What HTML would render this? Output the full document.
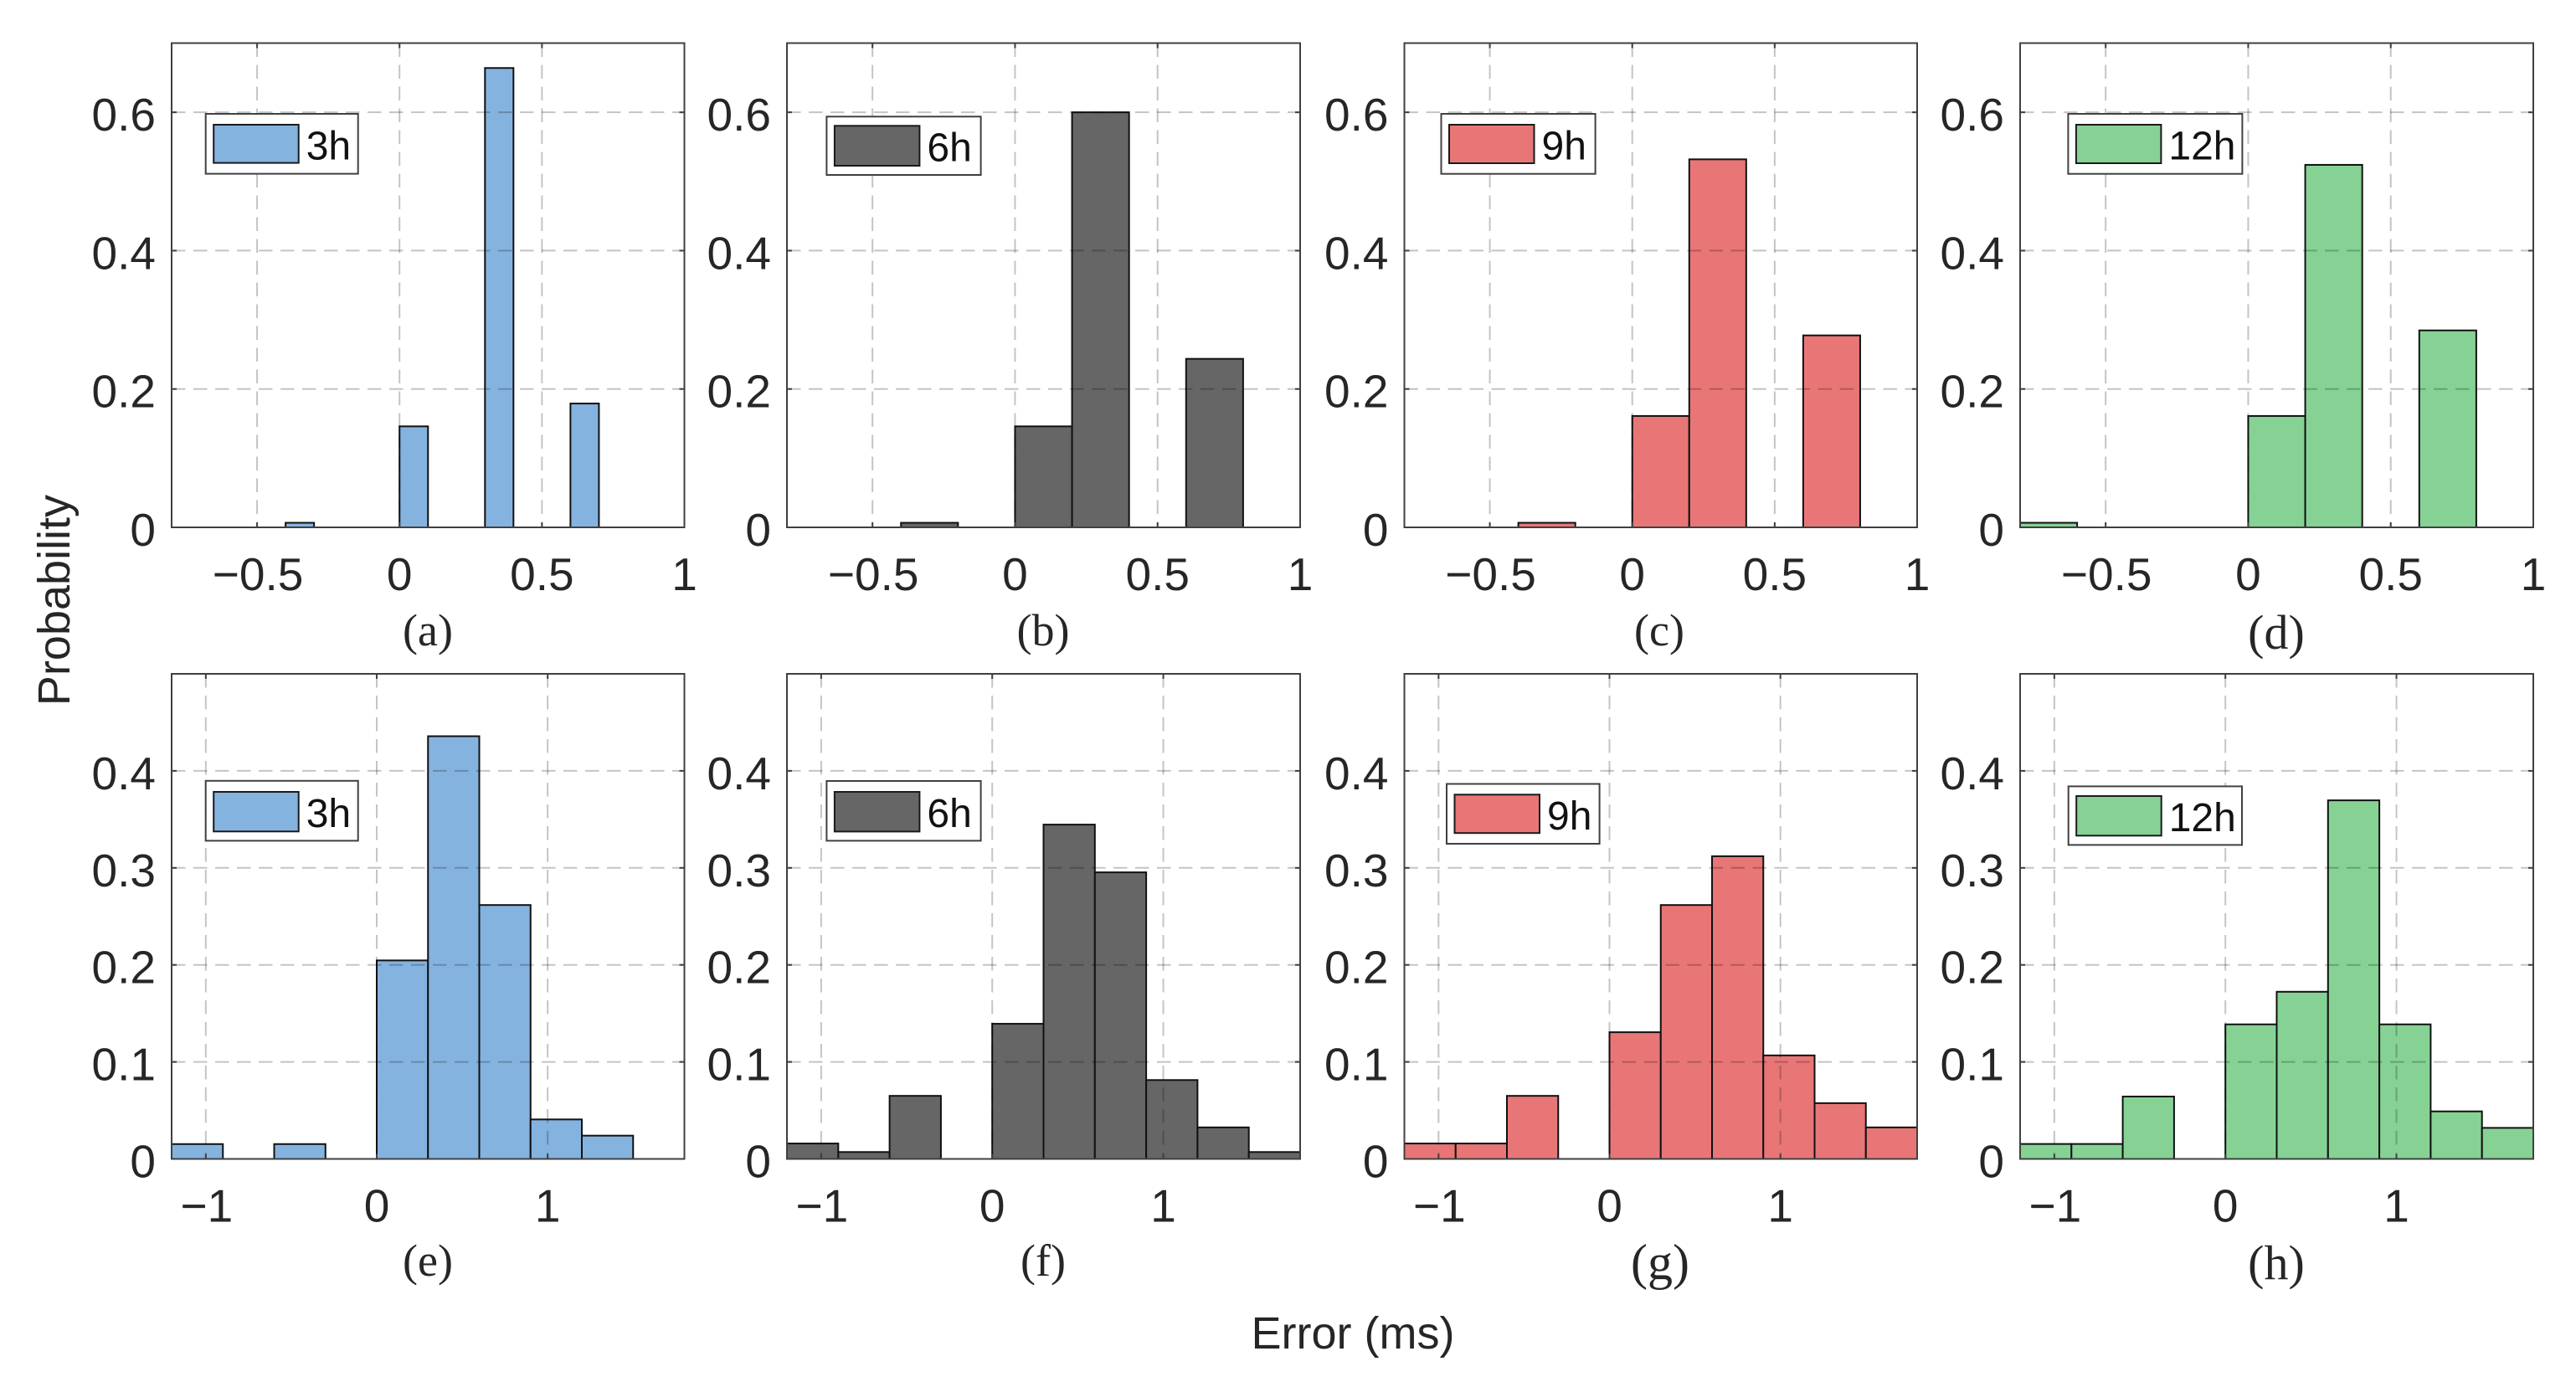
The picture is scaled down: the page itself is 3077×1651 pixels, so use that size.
<!DOCTYPE html>
<html lang="en">
<head>
<meta charset="utf-8">
<title>Error probability histograms</title>
<style>
html,body{margin:0;padding:0;background:#fff;}
svg{display:block;}
text{font-family:"Liberation Sans",Arial,sans-serif;}
.cap{font-family:"Liberation Serif","Times New Roman",serif;fill:#262626;}
</style>
</head>
<body>
<svg id="chart" xmlns="http://www.w3.org/2000/svg" width="3077" height="1651" viewBox="0 0 3077 1651">
<rect x="0" y="0" width="3077" height="1651" fill="#ffffff"/>
<text transform="translate(83,717) rotate(-90)" text-anchor="middle" font-size="54" fill="#262626">Probability</text>
<text x="1616" y="1611" text-anchor="middle" font-size="54" fill="#262626">Error (ms)</text>
</svg>
<script>
// ---- data ----
const topBinWidths = [0.1, 0.2, 0.2, 0.2];
const topBinStart = -0.8;
const valuesA = [0,0,0,0,0.0066,0,0,0,0.146,0,0,0.664,0,0,0.179,0,0,0];
const valuesB = [0,0,0.0066,0,0.146,0.6,0,0.2436,0];
const valuesC = [0,0,0.0066,0,0.161,0.532,0,0.2775,0];
const valuesD = [0.0066,0,0,0,0.161,0.524,0,0.2847,0];
const bottomBinWidth = 0.3;
const bottomBinStart = -1.2;
const valuesE = [0.0153,0,0.0153,0,0.2046,0.4357,0.2617,0.0407,0.024,0];
const valuesF = [0.0159,0.0071,0.065,0,0.1393,0.3446,0.2954,0.0813,0.0325,0.0071];
const valuesG = [0.0159,0.0159,0.065,0,0.1306,0.2617,0.312,0.1067,0.0575,0.0325];
const valuesH = [0.0154,0.0154,0.0643,0,0.1387,0.1723,0.3696,0.1387,0.049,0.032];
const topXTicks = [-0.5, 0, 0.5, 1];
const topYTicks = [0, 0.2, 0.4, 0.6];
const bottomXTicks = [-1, 0, 1];
const bottomYTicks = [0, 0.1, 0.2, 0.3, 0.4];
const seriesLabels = ['3h', '6h', '9h', '12h'];
const captions = ['(a)','(b)','(c)','(d)','(e)','(f)','(g)','(h)'];

// ---- layout ----
const seriesColors = ['#85B3DF', '#666666', '#E87677', '#86D295'];
const colLeft = [205, 940, 1677.5, 2413];
const colRight = [817.5, 1553, 2290, 3026];
const topRow = {top: 51.5, bottom: 630, xmin: -0.8, xmax: 1, ymax: 0.7};
const bottomRow = {top: 805, bottom: 1384.5, xmin: -1.2, xmax: 1.8, ymax: 0.5};
const panels = [
 {values: valuesA, start: topBinStart, width: topBinWidths[0], row: topRow, col: 0, xTicks: topXTicks, yTicks: topYTicks, box: [245.7,136,427.7,207.6], patchY: [149,194.6], capX: 511, capY: 771, capSize: 54},
 {values: valuesB, start: topBinStart, width: topBinWidths[1], row: topRow, col: 1, xTicks: topXTicks, yTicks: topYTicks, box: [987.4,139.3,1171.6,209], patchY: [150.3,198], capX: 1246, capY: 771, capSize: 54},
 {values: valuesC, start: topBinStart, width: topBinWidths[2], row: topRow, col: 2, xTicks: topXTicks, yTicks: topYTicks, box: [1721.5,136,1905.6,207.7], patchY: [149,195], capX: 1982, capY: 771, capSize: 54},
 {values: valuesD, start: topBinStart, width: topBinWidths[3], row: topRow, col: 3, xTicks: topXTicks, yTicks: topYTicks, box: [2470.4,136,2678.4,207.7], patchY: [149,195], capX: 2719, capY: 775, capSize: 58},
 {values: valuesE, start: bottomBinStart, width: bottomBinWidth, row: bottomRow, col: 0, xTicks: bottomXTicks, yTicks: bottomYTicks, box: [245.7,932.8,427.7,1004.4], patchY: [946,993.3], capX: 511, capY: 1524, capSize: 54},
 {values: valuesF, start: bottomBinStart, width: bottomBinWidth, row: bottomRow, col: 1, xTicks: bottomXTicks, yTicks: bottomYTicks, box: [987.4,933,1171.6,1004.4], patchY: [946,993.4], capX: 1246, capY: 1524, capSize: 54},
 {values: valuesG, start: bottomBinStart, width: bottomBinWidth, row: bottomRow, col: 2, xTicks: bottomXTicks, yTicks: bottomYTicks, box: [1728,936.5,1910.6,1008], patchY: [949.3,995.2], capX: 1983, capY: 1528, capSize: 60},
 {values: valuesH, start: bottomBinStart, width: bottomBinWidth, row: bottomRow, col: 3, xTicks: bottomXTicks, yTicks: bottomYTicks, box: [2470.7,939.4,2678,1009.4], patchY: [951,998.3], capX: 2719, capY: 1528, capSize: 58}
];

const NS = 'http://www.w3.org/2000/svg';
const svg = document.getElementById('chart');
function mk(parent, tag, attrs, txt) {
  const n = document.createElementNS(NS, tag);
  for (const k in attrs) n.setAttribute(k, attrs[k]);
  if (txt !== undefined) n.textContent = txt;
  parent.appendChild(n);
  return n;
}
function fmt(v) { return String(Math.abs(v)).replace(/^/, v < 0 ? '\u2212' : ''); }

panels.forEach(function (p, i) {
  const L = colLeft[p.col], R = colRight[p.col], T = p.row.top, B = p.row.bottom;
  const xs = function (v) { return L + (v - p.row.xmin) / (p.row.xmax - p.row.xmin) * (R - L); };
  const ys = function (v) { return B - v / p.row.ymax * (B - T); };
  const letter = captions[i].charAt(1);

  const g = mk(svg, 'g', {});
  
  

  const plot = mk(g, 'rect', {x: L, y: T, width: R - L, height: B - T, fill: '#fff'});
  
  

  // bars
  p.values.forEach(function (v, k) {
    if (v <= 0) return;
    const x0 = xs(p.start + k * p.width);
    const x1 = Math.min(xs(p.start + (k + 1) * p.width), R);
    const bar = mk(g, 'rect', {x: x0, y: ys(v), width: x1 - x0, height: B - ys(v), fill: seriesColors[p.col], stroke: '#111', 'stroke-width': 2});
    
    
  });

  // grid
  p.xTicks.forEach(function (t) {
    if (t === p.row.xmax) return;
    const line = mk(g, 'line', {x1: xs(t), x2: xs(t), y1: T, y2: B, stroke: '#000', 'stroke-opacity': 0.23, 'stroke-width': 2, 'stroke-dasharray': '16.5 9.5'});
    
    
  });
  p.yTicks.forEach(function (t) {
    if (t === 0) return;
    const line = mk(g, 'line', {x1: L, x2: R, y1: ys(t), y2: ys(t), stroke: '#000', 'stroke-opacity': 0.23, 'stroke-width': 2, 'stroke-dasharray': '16.5 9.5'});
    
    
  });

  // frame
  const frame = mk(g, 'rect', {x: L, y: T, width: R - L, height: B - T, fill: 'none', stroke: '#404040', 'stroke-width': 2});
  
  

  // x ticks and labels
  p.xTicks.forEach(function (t) {
    const x = xs(t);
    const tickB = mk(g, 'line', {x1: x, x2: x, y1: B, y2: B - 6, stroke: '#404040', 'stroke-width': 2});
    
    
    const tickT = mk(g, 'line', {x1: x, x2: x, y1: T, y2: T + 6, stroke: '#404040', 'stroke-width': 2});
    
    
    const lab = mk(g, 'text', {x: x + (t < 0 ? 1 : 0), y: B + 75, 'text-anchor': 'middle', 'font-size': 55, fill: '#262626'}, fmt(t));
    
    
  });

  // y ticks and labels
  p.yTicks.forEach(function (t) {
    const y = ys(t);
    const tickL = mk(g, 'line', {x1: L, x2: L + 6, y1: y, y2: y, stroke: '#404040', 'stroke-width': 2});
    
    
    const tickR = mk(g, 'line', {x1: R, x2: R - 6, y1: y, y2: y, stroke: '#404040', 'stroke-width': 2});
    
    
    const lab = mk(g, 'text', {x: L - 19, y: y + 22, 'text-anchor': 'end', 'font-size': 55, fill: '#262626'}, fmt(t));
    
    
  });

  // legend
  const lg = mk(g, 'g', {});
  
  
  const box = mk(lg, 'rect', {x: p.box[0], y: p.box[1], width: p.box[2] - p.box[0], height: p.box[3] - p.box[1], fill: '#fff', stroke: '#404040', 'stroke-width': 2});
  
  
  const patch = mk(lg, 'rect', {x: p.box[0] + 9.5, y: p.patchY[0], width: 101.5, height: p.patchY[1] - p.patchY[0], fill: seriesColors[p.col], stroke: '#1a1a1a', 'stroke-width': 2});
  
  
  const lt = mk(lg, 'text', {x: p.box[0] + 120, y: (p.patchY[0] + p.patchY[1]) / 2 + 18.5, 'font-size': 48, fill: '#111'}, seriesLabels[p.col]);
  
  

  // caption
  const cap = mk(g, 'text', {class: 'cap', x: p.capX, y: p.capY, 'text-anchor': 'middle', 'font-size': p.capSize}, captions[i]);
  
  
});
</script>
</body>
</html>
